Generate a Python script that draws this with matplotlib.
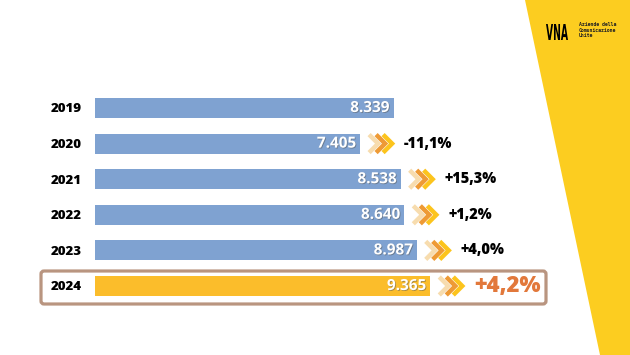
import matplotlib.pyplot as plt
import matplotlib.patheffects as pe
from matplotlib.patches import Polygon, FancyBboxPatch, PathPatch
from matplotlib.lines import Line2D
from matplotlib.transforms import IdentityTransform, Affine2D
from matplotlib.textpath import TextPath
from matplotlib.font_manager import FontProperties

# Daten
anni = ["2019", "2020", "2021", "2022", "2023", "2024"]
valori = [8339, 7405, 8538, 8640, 8987, 9365]
etichette = ["8.339", "7.405", "8.538", "8.640", "8.987", "9.365"]
variazioni = ["", "-11,1%", "+15,3%", "+1,2%", "+4,0%", "+4,2%"]

W, H = 630, 355
BLU = "#7fa2d1"
GIALLO_BAR = "#fbbd2b"
GIALLO = "#fccd20"
ARANCIO = "#e2783b"
FONT = "Open Sans"

fig = plt.figure(figsize=(W / 100, H / 100), dpi=100)
fig.patch.set_facecolor("white")

# Sfondo giallo a destra
fig.patches.append(
    Polygon(
        [(525 / W, 1), (1, 1), (1, 0), (600 / W, 0)],
        closed=True,
        transform=fig.transFigure,
        facecolor=GIALLO,
        edgecolor="none",
        zorder=-2,
    )
)

# Logo VNA (schmal gezogen)
tp = TextPath((0, 0), "VNA", size=10, prop=FontProperties(family="DejaVu Sans", weight="bold"))
bb = tp.get_extents()
sx = 22 / bb.width
sy = 16 / bb.height
logo_tr = Affine2D().translate(-bb.x0, -bb.y0).scale(sx, sy).translate(546, H - 40)
fig.patches.append(PathPatch(logo_tr.transform_path(tp), transform=IdentityTransform(),
                             facecolor="black", edgecolor="none"))
fig.text(579 / W, 1 - 30 / H, "Aziende della\nComunicazione\nUnite",
         fontsize=3.5, family="DejaVu Sans Mono", fontweight="bold",
         va="center", ha="left", linespacing=1.1, color="#222222")

# Achse: x=0 bei Pixel 95, 0.0358 px pro Einheit
scala = 0.0358
ax = fig.add_axes([95 / W, 0, (W - 95) / W, 1])
ax.patch.set_visible(False)
y = list(range(len(anni)))
colori = [BLU] * 5 + [GIALLO_BAR]
ax.barh(y, valori, height=0.56, color=colori)
ax.set_xlim(0, (W - 95) / scala)
ax.set_ylim((H - 108) / 35.6, -108 / 35.6)
for s in ax.spines.values():
    s.set_visible(False)
ax.set_xticks([])
ax.set_yticks(y)
ax.set_yticklabels(anni, fontsize=9.5, fontweight="heavy", family=FONT)
ax.tick_params(axis="y", length=0, pad=9.4)

fig.canvas.draw()

for i, v in enumerate(valori):
    ax.annotate(etichette[i], xy=(v, i), xytext=(-3, 0),
                textcoords="offset points", ha="right", va="center",
                fontsize=11, fontweight="bold", family=FONT, color="white",
                path_effects=[pe.withSimplePatchShadow(offset=(0.6, -0.6),
                                                       shadow_rgbFace="#555555",
                                                       alpha=0.5)])
    if variazioni[i]:
        ultimo = i == len(valori) - 1
        ax.annotate(variazioni[i], xy=(v, i), xytext=(44 * 0.72, 0),
                    textcoords="offset points", ha="left", va="center",
                    fontsize=16 if ultimo else 10.5, fontweight="heavy",
                    family=FONT, color=ARANCIO if ultimo else "black")
        # Doppia freccia
        px, py = ax.transData.transform((v, i))
        x0 = px + 9
        for k, c in enumerate(["#f7dcae", "#ee9a35", "#fcc41d"]):
            xs = x0 + k * 7
            fig.add_artist(Line2D([xs, xs + 9, xs], [py + 9, py, py - 9],
                                  transform=IdentityTransform(), color=c,
                                  lw=3.2, solid_joinstyle="miter",
                                  solid_capstyle="butt"))

# Riquadro 2024
fig.patches.append(
    FancyBboxPatch((41, H - 304), 505, 33,
                   boxstyle="round,pad=0,rounding_size=3",
                   transform=IdentityTransform(), facecolor="none",
                   edgecolor="#b99580", lw=2.3)
)

plt.savefig("out.png", dpi=100)
